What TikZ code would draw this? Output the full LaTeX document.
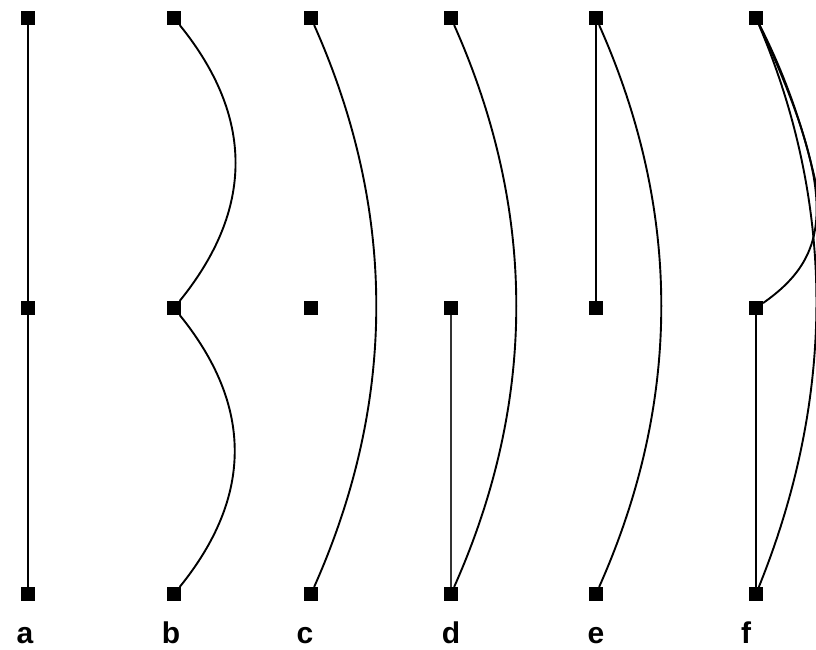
\documentclass[tikz,border=0pt]{standalone}
\usepackage{fontspec}
\setmainfont{Liberation Sans}
\begin{document}
\begin{tikzpicture}[x=1pt,y=1pt,
  pt/.style={fill=black,draw=none,minimum size=14pt,inner sep=0pt,outer sep=0pt},
  edge/.style={line width=1.9pt,black},
  thinedge/.style={line width=1.5pt,black!80},
  lab/.style={font=\fontsize{30}{30}\selectfont\bfseries,anchor=base},
  arcA/.style={out=-51,in=51,looseness=1.1},
  arcC/.style={out=-66,in=66,looseness=0.93}]
\useasboundingbox (0,0) rectangle (816,650);
\fill[white] (0,0) rectangle (816,650);
\clip (0,0) rectangle (816,650);
% nodes
\foreach \n/\x in {a/28,b/174,c/311,d/451,e/596,f/756}{
  \node[pt] (\n1) at (\x,632) {};
  \node[pt] (\n2) at (\x,342) {};
  \node[pt] (\n3) at (\x,56) {};
}
% a
\draw[edge] (a1) -- (a2);
\draw[edge] (a2) -- (a3);
% b
\draw[edge] (b1) to[arcA] (b2);
\draw[edge] (b2) to[arcA] (b3);
% c
\draw[edge] (c1) to[arcC] (c3);
% d
\draw[edge] (d1) to[arcC] (d3);
\draw[thinedge] (d2) -- (d3);
% e
\draw[edge] (e1) -- (e2);
\draw[edge] (e1) to[arcC] (e3);
% f
\coordinate (fx) at (850,240);
\draw[edge] (f1) .. controls +(-65:200) and +(35:90) .. (f2);
\draw[edge] (f2) -- (f3);
\draw[edge] (f1) to[out=-67,in=68,looseness=0.915] (f3);
\draw[edge] (f1) .. controls +(-63:170) and +(100:110) .. (fx);
% labels
\node[lab] (la) at (25,6) {a};
\node[lab] (lb) at (171,6) {b};
\node[lab] (lc) at (305,6) {c};
\node[lab] (ld) at (451,6) {d};
\node[lab] (le) at (596,6) {e};
\node[lab] (lf) at (746,6) {f};
\end{tikzpicture}
\end{document}
